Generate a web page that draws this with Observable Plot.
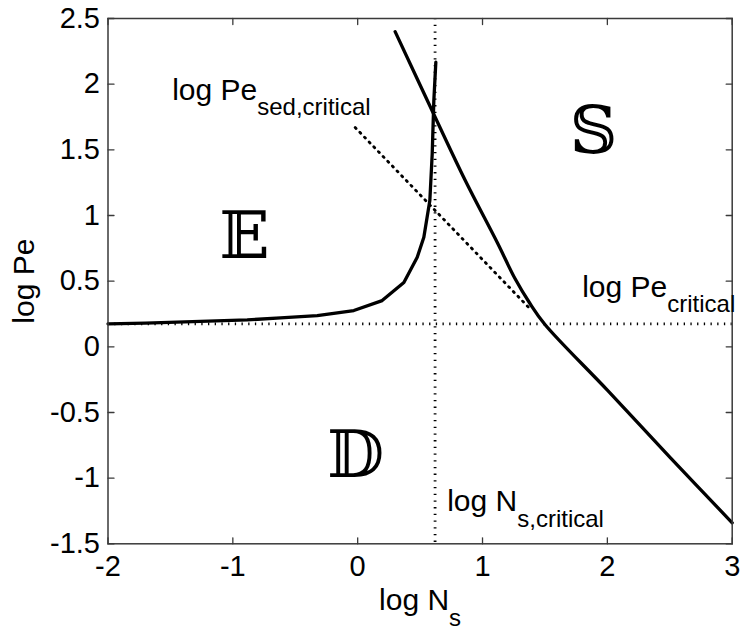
<!DOCTYPE html>
<html>
<head>
<meta charset="utf-8">
<script src="https://cdn.jsdelivr.net/npm/d3@7"></script>
<script src="https://cdn.jsdelivr.net/npm/@observablehq/plot@0.6"></script>
<style>
  html, body { margin: 0; padding: 0; background: #fff; }
  #chart svg { display: block; }
</style>
</head>
<body>
<div id="chart"></div>
<script>
// Axis extents and tick values
const xDomain = [-2, 3];
const yDomain = [-1.5, 2.5];
const xTicks = [-2, -1, 0, 1, 2, 3];
const yTicks = [-1.5, -1, -0.5, 0, 0.5, 1, 1.5, 2, 2.5];

// Critical values (dotted lines)
const logNsCritical = 0.62;
const logPeCritical = 0.175;

// Boundary of region E (solid curve rising to a vertical asymptote near log Ns,critical)
const eBoundaryLogNs = [-2, -1.7, -1.26, -0.885, -0.618, -0.324, -0.031, 0.196, 0.37, 0.477, 0.53, 0.578, 0.597, 0.61, 0.626];
const eBoundaryLogPe = [0.175, 0.18, 0.193, 0.205, 0.22, 0.238, 0.276, 0.352, 0.49, 0.682, 0.835, 1.114, 1.47, 1.875, 2.167];

// Boundary of region S (solid curve)
const sBoundaryLogNs = [0.30, 0.62, 0.86, 1.12, 1.26, 1.38, 1.50, 2.0, 2.5, 3.0];
const sBoundaryLogPe = [2.40, 1.75, 1.27, 0.79, 0.52, 0.33, 0.17, -0.33, -0.84, -1.34];

// log Pe_sed,critical (dotted diagonal)
const sedCriticalLogNs = [-0.02, 1.39];
const sedCriticalLogPe = [1.67, 0.28];

// Region names and their positions
const regionNames = ["\u{1D53C}", "\u{1D53B}", "\u{1D54A}"];
const regionLogNs = [-0.907, -0.017, 1.889];
const regionLogPe = [0.84, -0.828, 1.639];

// Annotations; "_{...}" marks a subscript
const noteTexts = ["log Pe_{sed,critical}", "log Pe_{critical}", "log N_{s,critical}"];
const noteLogNs = [-1.486, 1.798, 0.717];
const noteLogPe = [1.881, 0.383, -1.252];

const pts = (xs, ys) => xs.map((x, i) => ({x, y: ys[i]}));
const eBoundary = pts(eBoundaryLogNs, eBoundaryLogPe);
const sBoundary = pts(sBoundaryLogNs, sBoundaryLogPe);
const sedCritical = pts(sedCriticalLogNs, sedCriticalLogPe);
const regions = regionNames.map((t, i) => ({t, x: regionLogNs[i], y: regionLogPe[i]}));
const notes = noteTexts.map((t, i) => ({t, x: noteLogNs[i], y: noteLogPe[i]}));

const font = "'Liberation Sans', Arial, Helvetica, sans-serif";
const frameColor = "#3a3a3a";
const dotted = {stroke: "black", strokeWidth: 2.8, strokeDasharray: "1.3,5.4"};
const tickShape = {draw(context, l) { context.moveTo(0, 0); context.lineTo(0, -l); }};
const tickOpts = {length: 6, anchor: "start", shape: tickShape, stroke: frameColor, strokeWidth: 1.3};

const chart = Plot.plot({
  width: 745,
  height: 632,
  marginTop: 18,
  marginRight: 13.3,
  marginBottom: 88.7,
  marginLeft: 107.5,
  style: {fontFamily: font, fontSize: "29px", color: "black", background: "white", overflow: "visible"},
  x: {domain: xDomain, label: null},
  y: {domain: yDomain, label: null},
  marks: [
    Plot.ruleX([logNsCritical], dotted),
    Plot.ruleY([logPeCritical], dotted),
    Plot.line(sedCritical, {x: "x", y: "y", ...dotted}),
    Plot.line(eBoundary, {x: "x", y: "y", stroke: "black", strokeWidth: 3.3, strokeLinejoin: "round"}),
    Plot.line(sBoundary, {x: "x", y: "y", stroke: "black", strokeWidth: 3.3, curve: "catmull-rom"}),
    Plot.frame({stroke: frameColor, strokeWidth: 1.5}),
    // inward ticks on all four sides
    Plot.vector(xTicks, {x: d => d, y: () => yDomain[0], rotate: 0, ...tickOpts}),
    Plot.vector(xTicks, {x: d => d, y: () => yDomain[1], rotate: 180, ...tickOpts}),
    Plot.vector(yTicks, {x: () => xDomain[0], y: d => d, rotate: 90, ...tickOpts}),
    Plot.vector(yTicks, {x: () => xDomain[1], y: d => d, rotate: 270, ...tickOpts}),
    Plot.axisX({ticks: xTicks, tickSize: 0, tickPadding: 12, fontSize: 29, tickFormat: d => String(d), label: null}),
    Plot.axisY({ticks: yTicks, tickSize: 0, tickPadding: 8, fontSize: 29, tickFormat: d => String(d), label: null}),
    // axis titles
    Plot.text(["log N_{s}"], {x: () => (xDomain[0] + xDomain[1]) / 2, frameAnchor: "bottom", text: d => d, textAnchor: "middle", lineAnchor: "bottom", dy: 66.5, fontSize: 30}),
    Plot.text(["log Pe"], {y: () => (yDomain[0] + yDomain[1]) / 2, frameAnchor: "left", text: d => d, rotate: -90, textAnchor: "middle", lineAnchor: "bottom", dx: -74.5, fontSize: 30}),
    // annotations
    Plot.text(notes, {x: "x", y: "y", text: "t", textAnchor: "start", lineAnchor: "bottom", fontSize: 30}),
    // region letters
    Plot.text(regions, {x: "x", y: "y", text: "t", fontSize: 66, fontFamily: "'DejaVu Serif', 'DejaVu Sans', serif"})
  ]
});

// Render "_{...}" as a subscript
d3.select(chart).selectAll("text").each(function () {
  const m = /^(.*)_\{(.*)\}$/.exec(this.textContent);
  if (!m) return;
  const t = d3.select(this);
  t.text(null);
  t.append("tspan").text(m[1]);
  t.append("tspan").attr("font-size", "24px").attr("dy", "0.64em").text(m[2]);
});

document.getElementById("chart").append(chart);
</script>
</body>
</html>
